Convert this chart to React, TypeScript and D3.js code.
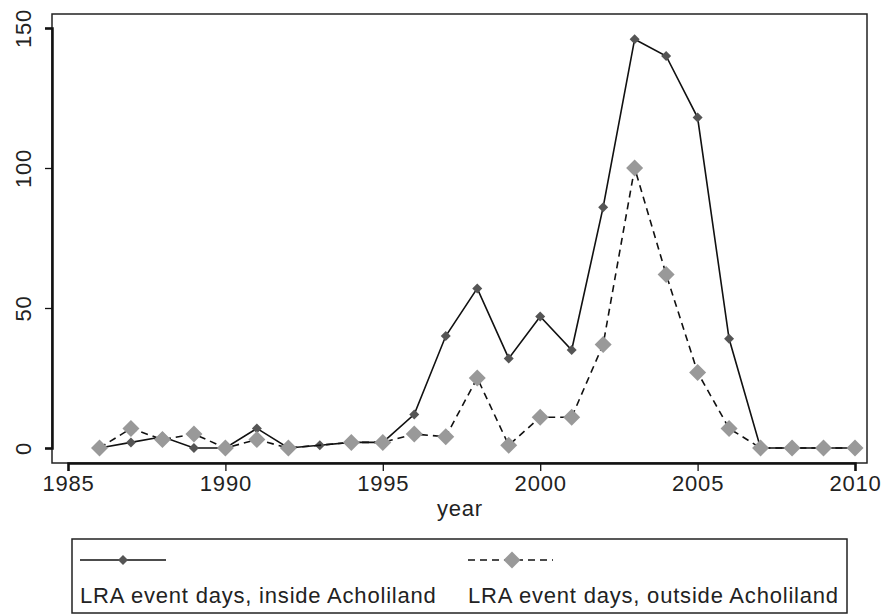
import React, { useEffect, useRef } from 'react';
import * as d3 from 'd3';

// LRA event days per year
const years = [1986, 1987, 1988, 1989, 1990, 1991, 1992, 1993, 1994, 1995, 1996, 1997, 1998,
  1999, 2000, 2001, 2002, 2003, 2004, 2005, 2006, 2007, 2008, 2009, 2010];
const insideDays = [0, 2, 4, 0, 0, 7, 0, 1, 2, 2, 12, 40, 57, 32, 47, 35, 86, 146, 140, 118, 39, 0, 0, 0, 0];
const outsideDays: (number | null)[] = [0, 7, 3, 5, 0, 3, 0, null, 2, 2, 5, 4, 25, 1, 11, 11, 37, 100, 62, 27, 7, 0, 0, 0, 0];
const xTicks = [1985, 1990, 1995, 2000, 2005, 2010];
const yTicks = [0, 50, 100, 150];
const legendLabels = ['LRA event days, inside Acholiland', 'LRA event days, outside Acholiland'];

const font = '"Liberation Sans", Arial, sans-serif';
const fontSize = 22;
const spacing = 0.8;

const App: React.FC = () => {
  const svgRef = useRef<SVGSVGElement | null>(null);

  useEffect(() => {
    if (!svgRef.current) return;
    const svg = d3.select(svgRef.current);
    svg.selectAll('*').remove();

    const x = d3.scaleLinear().domain([1985, 2010]).range([68, 855]);
    const y = d3.scaleLinear().domain([0, 150]).range([448, 28]);

    // plot region frame
    svg.append('rect')
      .attr('x', 52).attr('y', 14).attr('width', 815).attr('height', 449)
      .attr('fill', 'white').attr('stroke', '#222').attr('stroke-width', 1.5);

    // x axis
    const xAxis = svg.append('g')
      .attr('transform', 'translate(0,463)')
      .call(d3.axisBottom(x).tickValues(xTicks).tickFormat(d3.format('d')).tickSize(8).tickPadding(4));
    xAxis.select('.domain').attr('stroke', '#111').attr('stroke-width', 2.5);
    xAxis.selectAll('line').attr('stroke', '#111').attr('stroke-width', 1.3);
    xAxis.selectAll('text').attr('font-family', font).attr('font-size', fontSize)
      .attr('letter-spacing', spacing).attr('fill', '#222');

    // y axis
    const yAxis = svg.append('g')
      .attr('transform', 'translate(52,0)')
      .call(d3.axisLeft(y).tickValues(yTicks).tickSize(7).tickFormat(d3.format('d')));
    yAxis.select('.domain').attr('stroke', '#111').attr('stroke-width', 2.5);
    yAxis.selectAll('line').attr('stroke', '#111').attr('stroke-width', 1.3);
    yAxis.selectAll('text').remove();
    yAxis.selectAll('.tick').append('text')
      .attr('transform', 'translate(-29,0) rotate(-90)')
      .attr('text-anchor', 'middle')
      .attr('dy', '0.35em')
      .attr('font-family', font).attr('font-size', fontSize)
      .attr('letter-spacing', spacing).attr('fill', '#222')
      .text((d: any) => d);

    svg.append('text')
      .attr('x', 460).attr('y', 516)
      .attr('text-anchor', 'middle')
      .attr('font-family', font).attr('font-size', fontSize)
      .attr('letter-spacing', spacing).attr('fill', '#222')
      .text('year');

    const diamond = (s: number) => `M0,${-s}L${s},0L0,${s}L${-s},0Z`;

    const insidePts = years.map((yr, i) => ({ yr, v: insideDays[i] }));
    const outsidePts = years.map((yr, i) => ({ yr, v: outsideDays[i] })).filter(d => d.v !== null) as { yr: number; v: number }[];

    const line = d3.line<{ yr: number; v: number }>().x(d => x(d.yr)).y(d => y(d.v));

    // inside: solid line, small dark diamonds
    svg.append('path').datum(insidePts)
      .attr('d', line).attr('fill', 'none').attr('stroke', '#111').attr('stroke-width', 1.6);
    svg.append('g').selectAll('path').data(insidePts).enter().append('path')
      .attr('transform', d => `translate(${x(d.yr)},${y(d.v)})`)
      .attr('d', diamond(5)).attr('fill', '#555');

    // outside: dashed line, large grey diamonds
    svg.append('path').datum(outsidePts)
      .attr('d', line).attr('fill', 'none').attr('stroke', '#111').attr('stroke-width', 1.6)
      .attr('stroke-dasharray', '7,5');
    svg.append('g').selectAll('path').data(outsidePts).enter().append('path')
      .attr('transform', d => `translate(${x(d.yr)},${y(d.v)})`)
      .attr('d', diamond(8.5)).attr('fill', '#999');

    // legend
    const lg = svg.append('g');
    lg.append('rect')
      .attr('x', 72).attr('y', 539).attr('width', 775).attr('height', 74)
      .attr('fill', 'white').attr('stroke', '#222').attr('stroke-width', 1.5);

    lg.append('line').attr('x1', 80).attr('x2', 166).attr('y1', 560).attr('y2', 560)
      .attr('stroke', '#111').attr('stroke-width', 1.6);
    lg.append('path').attr('transform', 'translate(123,560)').attr('d', diamond(5)).attr('fill', '#555');

    lg.append('line').attr('x1', 468).attr('x2', 553).attr('y1', 560).attr('y2', 560)
      .attr('stroke', '#111').attr('stroke-width', 1.6).attr('stroke-dasharray', '7,5');
    lg.append('path').attr('transform', 'translate(512,560)').attr('d', diamond(8.5)).attr('fill', '#999');

    lg.selectAll('text.lab').data(legendLabels).enter().append('text')
      .attr('class', 'lab')
      .attr('x', (_d, i) => (i === 0 ? 80 : 468))
      .attr('y', 603)
      .attr('font-family', font).attr('font-size', fontSize)
      .attr('letter-spacing', spacing).attr('fill', '#222')
      .text(d => d);
  }, []);

  return (
    <svg ref={svgRef} width={883} height={615}
      style={{ position: 'absolute', left: 0, top: 0, background: 'white' }} />
  );
};

export default App;
